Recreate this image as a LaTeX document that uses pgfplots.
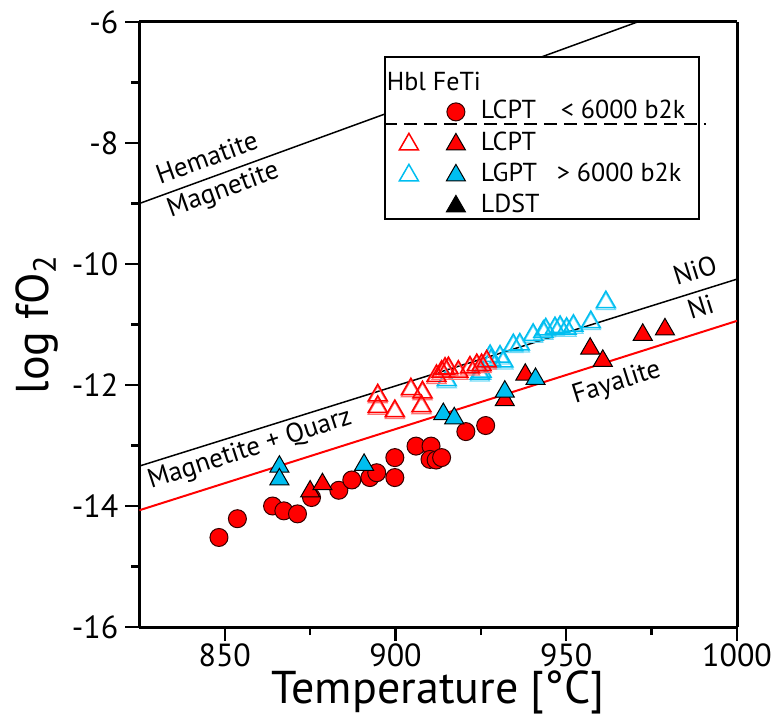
\documentclass[border=0pt]{standalone}
\usepackage{pgfplots}
\pgfplotsset{compat=1.18}
\usepackage{fontspec}
\setmainfont{PT Sans}
\definecolor{skyblue}{RGB}{0,190,240}

% samples below 6000 b2k
\pgfplotstableread{
T logf
848.3 -14.52
853.7 -14.21
864.0 -14.00
867.3 -14.08
871.3 -14.13
875.4 -13.86
883.4 -13.74
887.2 -13.57
892.5 -13.53
894.5 -13.45
899.8 -13.20
899.8 -13.53
906.0 -13.01
910.4 -13.01
910.1 -13.23
911.9 -13.24
913.5 -13.20
920.6 -12.77
926.4 -12.67
}\lcptyoung

\pgfplotstableread{
T logf
875.0 -13.76
878.6 -13.64
932.0 -12.25
938.0 -11.83
957.0 -11.40
960.7 -11.60
972.4 -11.17
978.9 -11.08
}\lcptfeti

\pgfplotstableread{
T logf
866.0 -13.35
866.0 -13.56
890.8 -13.32
914.0 -12.48
917.2 -12.55
932.0 -12.11
941.0 -11.90
}\lgptfeti

\pgfplotstableread{
T logf
894.8 -12.17
894.8 -12.36
899.8 -12.43
904.5 -12.07
907.9 -12.12
907.6 -12.35
912.0 -11.85
913.5 -11.78
914.5 -11.73
915.5 -11.72
918.4 -11.78
921.8 -11.71
923.8 -11.67
925.2 -11.67
926.7 -11.61
}\lcpthbl

\pgfplotstableread{
T logf
915.0 -11.92
924.7 -11.81
925.2 -11.78
927.7 -11.52
928.0 -11.59
930.6 -11.53
931.6 -11.61
934.5 -11.34
936.4 -11.33
940.3 -11.17
943.3 -11.12
944.0 -11.08
946.7 -11.06
948.2 -11.04
950.1 -11.07
952.1 -11.02
957.2 -10.96
961.6 -10.63
}\lgpthbl

% invisible box that fixes the size of a legend symbol cell: {bottom}{height}
\newcommand{\cellbox}[2]{\pgfpathrectangle{\pgfpoint{0pt}{#1}}{\pgfpoint{44pt}{#2}}\pgfusepath{discard}}

\begin{document}
\begin{tikzpicture}
\begin{axis}[
  width=298.8pt, height=302.5pt, scale only axis,
  xmin=825, xmax=1000, ymin=-16, ymax=-6,
  xtick={850,900,950,1000}, ytick={-16,-14,...,-6},
  minor x tick num=1, minor y tick num=1,
  tick align=outside, tick pos=left,
  major tick length=7pt, minor tick length=4pt,
  tick style={black, line width=1.2pt},
  separate axis lines,
  axis line style={line width=1.5pt},
  /pgf/number format/assume math mode=true,
  /pgf/number format/1000 sep={},
  tick label style={font=\fontsize{16}{18}\selectfont},
  xticklabel style={yshift=2pt},
  label style={font=\fontsize{23}{26}\selectfont},
  xlabel={Temperature [°C]},
  xlabel style={yshift=5pt},
  ylabel={log fO\textsubscript{2}},
  clip mode=individual,
  legend cell align=left,
  legend style={
    at={(axis cs:896.6,-6.56)}, anchor=north west,
    draw=black, line width=1pt,
    font=\fontsize{13}{15}\selectfont,
    inner xsep=4pt, inner ysep=0pt,
    row sep=0pt,
    nodes={draw=none, inner sep=0pt, text height=9.5pt, text depth=3pt},
  },
]
% buffer curves
\addplot[black, line width=0.75pt, forget plot] coordinates {(825,-9.0) (1000,-5.4)};
\addplot[black, line width=0.75pt, forget plot] coordinates {(825,-13.34) (1000,-10.25)};
\addplot[red, line width=1pt, forget plot] coordinates {(825,-14.07) (1000,-10.94)};

% hornblende open symbols (with faint offset outline)
\addplot[only marks, mark=triangle, mark size=5.5pt, skyblue!55, line width=0.6pt,
  mark options={yshift=-1pt}, forget plot] table[x=T, y=logf] {\lgpthbl};
\addplot[only marks, mark=triangle, mark size=5.5pt, skyblue, line width=0.75pt,
  forget plot] table[x=T, y=logf] {\lgpthbl};
\addplot[only marks, mark=triangle, mark size=5.5pt, red!55, line width=0.6pt,
  mark options={yshift=-1pt}, forget plot] table[x=T, y=logf] {\lcpthbl};
\addplot[only marks, mark=triangle, mark size=5.5pt, red, line width=0.75pt,
  forget plot] table[x=T, y=logf] {\lcpthbl};

% Fe-Ti oxide filled symbols
\addplot[only marks, mark=*, mark size=4.5pt, mark options={draw=black!80!red, fill=red, line width=0.5pt},
  forget plot] table[x=T, y=logf] {\lcptyoung};
\addplot[only marks, mark=triangle*, mark size=5.5pt, mark options={draw=black, fill=red, line width=0.5pt},
  forget plot] table[x=T, y=logf] {\lcptfeti};
\addplot[only marks, mark=triangle*, mark size=5.5pt, mark options={draw=black, fill=skyblue, line width=0.5pt},
  forget plot] table[x=T, y=logf] {\lgptfeti};

% legend
\addlegendimage{legend image code/.code={\cellbox{-4.75pt}{19pt}}}
\addlegendentry{\hspace*{-48pt}\raisebox{0.5pt}{Hbl FeTi}}
\addlegendimage{legend image code/.code={
  \cellbox{-7.75pt}{15.5pt}
  \draw[mark=*, mark size=4.5pt, mark options={draw=black!80!red, fill=red, line width=0.5pt}] plot coordinates {(31.5pt,0.75pt)};}}
\addlegendentry{\raisebox{0.75pt}{\makebox[40pt][l]{LCPT}< 6000 b2k}}
\addlegendimage{legend image code/.code={
  \cellbox{-7.75pt}{15.5pt}
  \draw[mark=triangle, mark size=5.5pt, mark options={draw=red, line width=0.75pt}] plot coordinates {(8pt,0pt)};
  \draw[mark=triangle*, mark size=5.5pt, mark options={draw=black, fill=red, line width=0.5pt}] plot coordinates {(31.5pt,0pt)};}}
\addlegendentry{\makebox[105pt][l]{LCPT}}
\addlegendimage{legend image code/.code={
  \cellbox{-7.75pt}{15.5pt}
  \draw[mark=triangle, mark size=5.5pt, mark options={draw=skyblue, line width=0.75pt}] plot coordinates {(8pt,0pt)};
  \draw[mark=triangle*, mark size=5.5pt, mark options={draw=black, fill=skyblue, line width=0.5pt}] plot coordinates {(31.5pt,0pt)};}}
\addlegendentry{\makebox[38pt][l]{LGPT}> 6000 b2k}
\addlegendimage{legend image code/.code={
  \cellbox{-5.75pt}{13.5pt}
  \draw[mark=triangle*, mark size=5.5pt, mark options={draw=black, fill=black, line width=0.5pt}] plot coordinates {(31.5pt,0pt)};}}
\addlegendentry{LDST}

% ends of the separator inside the legend
\coordinate (sepL) at (axis cs:896.6,-7.686);
\coordinate (sepR) at (axis cs:990.9,-7.686);

% buffer labels
\node[rotate=20, font=\fontsize{13.5}{15}\selectfont] at (axis cs:844.7,-8.24) {Hematite};
\node[rotate=20, font=\fontsize{13.5}{15}\selectfont] at (axis cs:849.6,-8.79) {Magnetite};
\node[rotate=17.5, font=\fontsize{13.5}{15}\selectfont] at (axis cs:987.7,-10.10) {NiO};
\node[rotate=17.5, font=\fontsize{13.5}{15}\selectfont] at (axis cs:989.3,-10.71) {Ni};
\node[rotate=17.5, font=\fontsize{13.5}{15}\selectfont] at (axis cs:964.8,-11.97) {Fayalite};
\node[rotate=18, font=\fontsize{13.5}{15}\selectfont] at (axis cs:857.4,-13.07) {Magnetite + Quarz};

\coordinate (ll) at (rel axis cs:0,0);
\coordinate (ur) at (rel axis cs:1,1);
\end{axis}
\draw[black, line width=0.6pt, dash pattern=on 6.5pt off 3.5pt] (sepL) -- (sepR);
\pgfresetboundingbox
\path ([shift={(-69.7pt,-48.5pt)}]ll) rectangle ([shift={(17pt,11pt)}]ur);
\end{tikzpicture}
\end{document}
